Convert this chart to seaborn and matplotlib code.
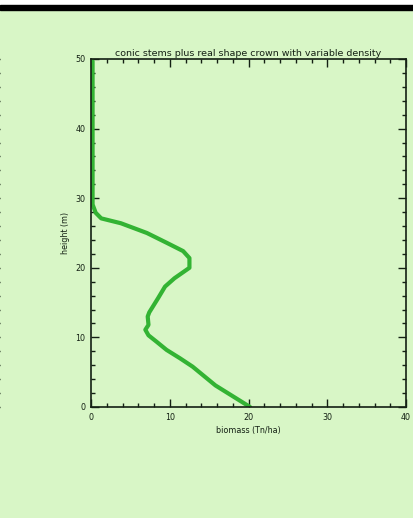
import matplotlib
matplotlib.use("Agg")
import matplotlib.pyplot as plt
from matplotlib.ticker import MultipleLocator
import seaborn as sns
import pandas as pd

# Biomass profile along the stem height
biomass = [20.2, 15.8, 12.9, 11.3, 9.6, 8.3, 7.3, 6.9, 7.3, 7.2, 7.4, 8.5, 9.4,
           10.6, 12.5, 12.5, 11.7, 9.6, 7.1, 3.8, 1.3, 0.6, 0.2, 0.2, 0.2]
height = [0.0, 3.1, 5.8, 7.0, 8.2, 9.4, 10.3, 11.1, 11.8, 13.0, 13.6, 15.6, 17.3,
          18.5, 20.0, 21.4, 22.4, 23.6, 25.0, 26.4, 27.1, 27.9, 29.1, 35.0, 49.7]

title = "conic stems plus real shape crown with variable density"
xlabel = "biomass (Tn/ha)"
ylabel = "height (m)"
x_range = (0, 40)
y_range = (0, 50)

df = pd.DataFrame({"biomass": biomass, "height": height})

bg = "#d8f6c6"
ink = "#142014"
line_col = "#33b333"

sns.set_theme(style="ticks")
plt.rcParams["font.family"] = ["DejaVu Sans"]

W, H = 413, 518
fig = plt.figure(figsize=(W / 100, H / 100), dpi=100)
fig.patch.set_facecolor(bg)

# white strip and black rule along the top edge
fig.add_artist(plt.Rectangle((0, 1 - 5 / H), 1, 5 / H, transform=fig.transFigure,
                             color="white", zorder=0))
fig.add_artist(plt.Rectangle((0, 1 - 10 / H), 1, 5 / H, transform=fig.transFigure,
                             color="black", zorder=0))

left, right, top, bottom = 91, 406, 59, 407
ax = fig.add_axes([left / W, 1 - bottom / H, (right - left) / W, (bottom - top) / H])
ax.set_facecolor("none")

sns.lineplot(data=df, x="biomass", y="height", sort=False, estimator=None,
             errorbar=None, ax=ax, color=line_col, linewidth=3.0)

ax.set_xlim(*x_range)
ax.set_ylim(*y_range)
ax.xaxis.set_major_locator(MultipleLocator(10))
ax.xaxis.set_minor_locator(MultipleLocator(2))
ax.yaxis.set_major_locator(MultipleLocator(10))
ax.yaxis.set_minor_locator(MultipleLocator(2))
ax.tick_params(which="both", direction="in", top=True, right=True, colors=ink,
               labelsize=5.8, width=1.0, pad=4)
ax.tick_params(which="major", length=6)
ax.tick_params(which="minor", length=3)
for s in ax.spines.values():
    s.set_color(ink)
    s.set_linewidth(1.2)

ax.set_title(title, fontsize=6.8, color=ink, pad=2)
ax.set_xlabel(xlabel, fontsize=5.8, color=ink, labelpad=3)
ax.set_ylabel(ylabel, fontsize=5.8, color=ink, labelpad=4)

# neighbouring panel, mostly off the left edge: only its right-hand ticks show
ax2 = fig.add_axes([(0 - 315) / W, 1 - bottom / H, 315 / W, (bottom - top) / H])
ax2.set_facecolor("none")
ax2.set_ylim(*y_range)
ax2.yaxis.set_major_locator(MultipleLocator(10))
ax2.yaxis.set_minor_locator(MultipleLocator(2))
ax2.set_xticks([])
ax2.tick_params(which="both", direction="in", left=False, right=True, colors=ink,
                width=1.0, labelleft=False, labelright=False)
ax2.tick_params(which="major", length=6)
ax2.tick_params(which="minor", length=3)
for s in ax2.spines.values():
    s.set_visible(False)

fig.savefig("out.png", dpi=100, facecolor=bg)
